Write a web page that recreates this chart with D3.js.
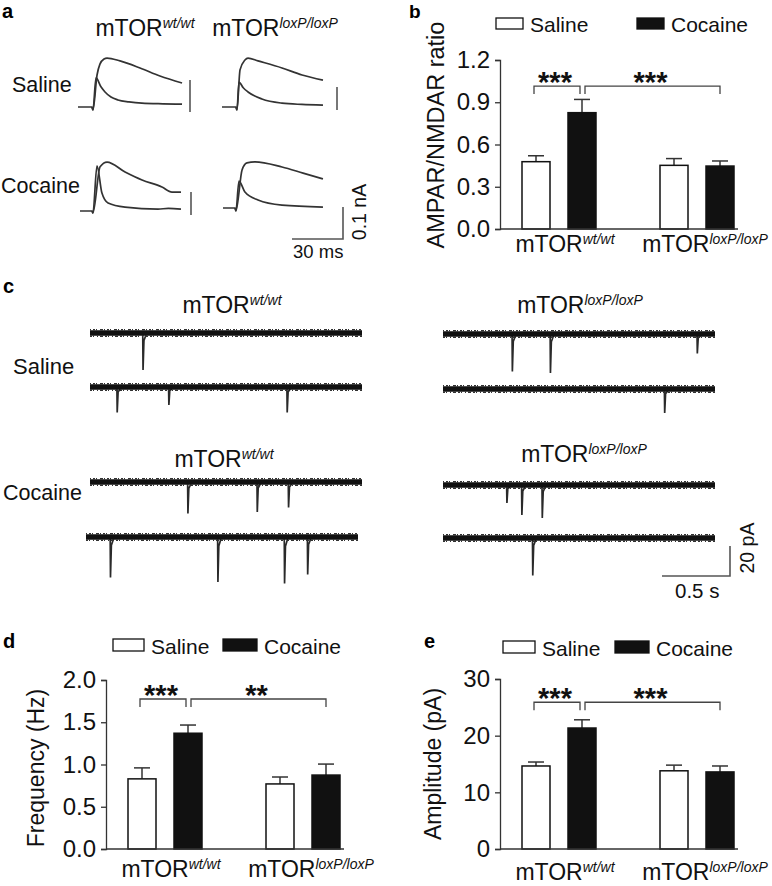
<!DOCTYPE html>
<html><head><meta charset="utf-8">
<script src="https://cdn.jsdelivr.net/npm/d3@7"></script>
<style>html,body{margin:0;padding:0;background:#fff}</style>
</head><body>
<svg id="fig" width="772" height="886" xmlns="http://www.w3.org/2000/svg"></svg>
<script>
// ---------------- DATA ----------------
const groups = ["wt/wt", "loxP/loxP"];
const conditions = ["Saline", "Cocaine"];

// Panel b: AMPAR/NMDAR ratio (mean, SEM) [group][condition]
const ratioMean = [[0.478, 0.826], [0.452, 0.447]];
const ratioSem  = [[0.042, 0.094], [0.048, 0.036]];
const ratioTicks = [0, 0.3, 0.6, 0.9, 1.2];

// Panel d: mEPSC frequency (Hz)
const freqMean = [[0.83, 1.37], [0.77, 0.875]];
const freqSem  = [[0.13, 0.097], [0.082, 0.13]];
const freqTicks = [0, 0.5, 1.0, 1.5, 2.0];

// Panel e: mEPSC amplitude (pA)
const ampMean = [[14.65, 21.35], [13.8, 13.6]];
const ampSem  = [[0.7, 1.45], [1.0, 1.05]];
const ampTicks = [0, 10, 20, 30];

// significance brackets: [group, condition] -> [group, condition]
const sigPairs = [
  { from: [0, 0], to: [0, 1] },
  { from: [0, 1], to: [1, 1] }
];
const ratioSig = ["***", "***"];
const freqSig  = ["***", "**"];
const ampSig   = ["***", "***"];
const ratioSigLevel = 1.015;
const freqSigLevel = 1.775;
const ampSigLevel = 25.9;

// Panel a: evoked EPSC traces, points [ms, pA]
const salineWtFast = [[0,0],[8.2,0],[8.8,-9],[10.6,91],[13.5,63],[15.9,47],[19.4,31],[23.5,22],[30,16],[37.6,12],[50,10],[61.2,9]];
const salineWtSlow = [[8.2,0],[8.8,-9],[11.2,100],[12.9,134],[15.3,150],[17.1,153],[24.7,144],[36.5,122],[48.2,97],[61.2,75]];
const salineLoxFast = [[0,0],[8.2,0],[8.8,-9],[10.0,78],[12.5,60],[15.3,47],[23.5,25],[35.3,12],[47,8],[59.4,6]];
const salineLoxSlow = [[8.2,0],[8.8,-9],[10.6,116],[13.5,147],[15.3,153],[21.2,144],[35.3,122],[47.1,100],[59.4,84]];
const cocaineWtFast = [[0,0],[7.1,0],[7.6,-6],[10.0,141],[12.9,56],[16.5,25],[26.5,12],[45.9,6],[52,8],[59.4,6]];
const cocaineWtSlow = [[7.1,0],[7.6,-6],[11.8,138],[15.9,153],[26.5,122],[36.5,97],[48.2,75],[54.1,59],[59.4,59]];
const cocaineLoxFast = [[0,0],[7.1,0],[7.6,-9],[9.4,84],[12.9,50],[20.6,25],[34.7,9],[58.8,3]];
const cocaineLoxSlow = [[7.1,0],[7.6,-9],[11.2,119],[14.1,141],[18.8,144],[34.7,128],[47.1,109],[58.8,91]];
const epscSideBarsPa = [100, 72, 72];    // vertical markers beside the first three cells
const epscScaleMs = 30, epscScalePa = 100;
const epscScaleLabels = ["30 ms", "0.1 nA"];

// Panel c: mEPSC sweeps, events [time s, amplitude pA]
const sweepLength = 2.0;
const sweepSalineWt1 = [[0.39, 24.7]];
const sweepSalineWt2 = [[0.20, 17], [0.58, 12], [1.45, 17]];
const sweepCocaineWt1 = [[0.72, 21], [1.23, 20], [1.46, 17]];
const sweepCocaineWt2 = [[0.18, 27], [0.97, 30], [1.46, 31], [1.63, 25]];
const sweepSalineLox1 = [[0.51, 25], [0.79, 26], [1.87, 13]];
const sweepSalineLox2 = [[1.63, 16]];
const sweepCocaineLox1 = [[0.47, 12], [0.58, 20], [0.73, 22]];
const sweepCocaineLox2 = [[0.66, 25]];
const mScaleS = 0.5, mScalePa = 20;
const mScaleLabels = ["0.5 s", "20 pA"];

// ---------------- DRAWING ----------------
const FONT = "'Liberation Sans', Arial, Helvetica, sans-serif";
const svg = d3.select("#fig").style("font-family", FONT);
const AX = "#333";

function panelLetter(t, x, y, size) {
  svg.append("text").attr("x", x).attr("y", y).attr("font-size", size || 20)
    .attr("font-weight", "bold").attr("fill", "#000").text(t);
}
function genoLabel(g, cx, y) {
  const t = svg.append("text").attr("x", cx).attr("y", y).attr("text-anchor", "middle")
    .attr("font-size", 23).attr("fill", "#111");
  t.append("tspan").text("mTOR");
  t.append("tspan").attr("font-size", 14).attr("font-style", "italic").attr("dy", -8).text(g);
}
function plainText(t, x, y, size, anchor) {
  return svg.append("text").attr("x", x).attr("y", y).attr("font-size", size)
    .attr("text-anchor", anchor || "start").attr("fill", "#111").text(t);
}

// ---------- Panel a ----------
panelLetter("a", 2, 18);
genoLabel(groups[0], 145, 36);
genoLabel(groups[1], 275, 36);
plainText("Saline", 12, 92, 21.5);
plainText("Cocaine", 1, 193, 21.5);

const xMs = d3.scaleLinear().domain([0, 30]).range([0, 51]);
const yPa = d3.scaleLinear().domain([0, 100]).range([0, -32]);
const epscLine = d3.line().x(d => xMs(d[0])).y(d => yPa(d[1])).curve(d3.curveMonotoneX);
const epscCells = [
  { x: 78,  y: 107, fast: salineWtFast,  slow: salineWtSlow,  bar: { x: 190, bottom: 112, pa: epscSideBarsPa[0] } },
  { x: 222, y: 107, fast: salineLoxFast, slow: salineLoxSlow, bar: { x: 337, bottom: 110, pa: epscSideBarsPa[1] } },
  { x: 80,  y: 211, fast: cocaineWtFast, slow: cocaineWtSlow, bar: { x: 191, bottom: 215, pa: epscSideBarsPa[2] } },
  { x: 223, y: 208, fast: cocaineLoxFast, slow: cocaineLoxSlow, bar: null }
];
epscCells.forEach(c => {
  const g = svg.append("g").attr("transform", `translate(${c.x},${c.y})`);
  [c.slow, c.fast].forEach(tr => g.append("path").attr("d", epscLine(tr))
    .attr("fill", "none").attr("stroke", "#333").attr("stroke-width", 1.7));
  if (c.bar) {
    svg.append("line").attr("x1", c.bar.x).attr("x2", c.bar.x)
      .attr("y1", c.bar.bottom).attr("y2", c.bar.bottom + yPa(c.bar.pa))
      .attr("stroke", "#555").attr("stroke-width", 1.6);
  }
});
// L scale bar
{
  const cx = 343, cy = 239;
  svg.append("path").attr("d", `M${cx - xMs(epscScaleMs)},${cy}H${cx}V${cy + yPa(epscScalePa)}`)
    .attr("fill", "none").attr("stroke", "#555").attr("stroke-width", 1.6);
  plainText(epscScaleLabels[0], 293, 258, 18.5);
  plainText(epscScaleLabels[1], 0, 0, 19.5, "middle").attr("transform", `translate(366,212) rotate(-90)`);
}

// ---------- Panel c ----------
panelLetter("c", 3, 293);
genoLabel(groups[0], 232, 313);
genoLabel(groups[1], 580, 313);
genoLabel(groups[0], 224, 467);
genoLabel(groups[1], 584, 462);
plainText("Saline", 13, 374, 22);
plainText("Cocaine", 3, 500, 21.5);

const xS = d3.scaleLinear().domain([0, 0.5]).range([0, 68]);
const yP = d3.scaleLinear().domain([0, 20]).range([0, 30]);
const sweeps = [
  { x: 90,  y: 333, ev: sweepSalineWt1 },
  { x: 90,  y: 387, ev: sweepSalineWt2 },
  { x: 90,  y: 482, ev: sweepCocaineWt1 },
  { x: 86,  y: 537, ev: sweepCocaineWt2 },
  { x: 443, y: 334, ev: sweepSalineLox1 },
  { x: 443, y: 389, ev: sweepSalineLox2 },
  { x: 443, y: 485, ev: sweepCocaineLox1 },
  { x: 443, y: 538, ev: sweepCocaineLox2 }
];
sweeps.forEach(s => {
  const g = svg.append("g").attr("transform", `translate(${s.x},${s.y})`);
  const L = xS(sweepLength);
  // spikes
  s.ev.forEach(e => {
    const x = xS(e[0]), d = yP(e[1]);
    g.append("path").attr("d", `M${x - 0.3},0L${x},${d}L${x + 0.9},${d * 0.2}L${x + 3},2`)
      .attr("fill", "none").attr("stroke", "#2a2a2a").attr("stroke-width", 1.7);
  });
  // noise band
  g.append("line").attr("x1", 0).attr("x2", L).attr("y1", 0).attr("y2", 0)
    .attr("stroke", "#111").attr("stroke-width", 5.5);
  g.append("line").attr("x1", 0).attr("x2", L).attr("y1", -3.2).attr("y2", -3.2)
    .attr("stroke", "#333").attr("stroke-width", 1.6).attr("stroke-dasharray", "1,2,2,1,1,3,3,1");
  g.append("line").attr("x1", 0).attr("x2", L).attr("y1", 3.2).attr("y2", 3.2)
    .attr("stroke", "#333").attr("stroke-width", 1.6).attr("stroke-dasharray", "2,1,1,3,1,2,3,2");
});
{
  const cx = 730, cy = 576;
  svg.append("path").attr("d", `M${cx - xS(mScaleS)},${cy}H${cx}V${cy - yP(mScalePa)}`)
    .attr("fill", "none").attr("stroke", "#555").attr("stroke-width", 1.6);
  plainText(mScaleLabels[0], 675, 598, 20.5);
  plainText(mScaleLabels[1], 0, 0, 19.5, "middle").attr("transform", `translate(754,548) rotate(-90)`);
}

// ---------- Bar panels ----------
function barPanel(o) {
  const y = d3.scaleLinear().domain([o.ticks[0], o.ticks[o.ticks.length - 1]]).range([o.yBot, o.yTop]);
  const offs = [[36, 82], [174, 220]];
  const cxOf = (gi, ci) => o.ax + offs[gi][ci];
  const bw = 28;
  const g = svg.append("g");
  // bars
  groups.forEach((gn, gi) => conditions.forEach((cn, ci) => {
    const m = o.means[gi][ci], s = o.sems[gi][ci], cx = cxOf(gi, ci);
    g.append("line").attr("x1", cx).attr("x2", cx).attr("y1", y(m)).attr("y2", y(m + s))
      .attr("stroke", AX).attr("stroke-width", 1.5);
    g.append("line").attr("x1", cx - 8).attr("x2", cx + 8).attr("y1", y(m + s)).attr("y2", y(m + s))
      .attr("stroke", AX).attr("stroke-width", 1.5);
    g.append("rect").attr("x", cx - bw / 2).attr("y", y(m)).attr("width", bw).attr("height", y(0) - y(m))
      .attr("fill", ci === 0 ? "#fff" : "#111").attr("stroke", "#111").attr("stroke-width", 1.5);
  }));
  // axes
  const axis = d3.axisLeft(y).tickValues(o.ticks).tickFormat(d3.format(o.fmt))
    .tickSizeOuter(0).tickSize(5).tickPadding(5);
  const ag = svg.append("g").attr("transform", `translate(${o.ax},0)`).call(axis);
  ag.select(".domain").attr("stroke", AX).attr("stroke-width", 1.3);
  ag.selectAll(".tick line").attr("stroke", AX).attr("stroke-width", 1.3);
  ag.selectAll(".tick text").attr("font-size", o.tickSize).attr("fill", "#111").attr("font-family", FONT);
  svg.append("line").attr("x1", o.ax).attr("x2", o.ax + 238).attr("y1", y(0)).attr("y2", y(0))
    .attr("stroke", AX).attr("stroke-width", 1.3);
  // brackets
  sigPairs.forEach((p, i) => {
    const x1 = cxOf(p.from[0], p.from[1]) + (i === 0 ? -2 : 3);
    const x2 = cxOf(p.to[0], p.to[1]) + (i === 0 ? -2 : 0);
    const yb = y(o.sigLevel);
    svg.append("path").attr("d", `M${x1},${yb + 8}V${yb}H${x2}V${yb + 8}`)
      .attr("fill", "none").attr("stroke", "#444").attr("stroke-width", 1.3);
    svg.append("text").attr("x", (x1 + x2) / 2 - 2).attr("y", yb + 6).attr("text-anchor", "middle")
      .attr("font-size", 29).attr("font-weight", "bold").attr("fill", "#111").text(o.sig[i]);
  });
  // y label
  plainText(o.ylabel, 0, 0, o.ylabelSize, "middle")
    .attr("transform", `translate(${o.ylx},${o.yly}) rotate(-90)`);
  // category labels
  genoLabel(groups[0], (cxOf(0, 0) + cxOf(0, 1)) / 2 + 6, o.catY);
  genoLabel(groups[1], (cxOf(1, 0) + cxOf(1, 1)) / 2 + 8, o.catY);
  // legend
  o.legend.forEach((l, i) => {
    svg.append("rect").attr("x", l.x).attr("y", o.legY).attr("width", l.w).attr("height", o.legH)
      .attr("fill", i === 0 ? "#fff" : "#111").attr("stroke", "#111").attr("stroke-width", 1.3);
    plainText(conditions[i], l.x + l.w + 7, o.legY + o.legH + 3, 21);
  });
}

panelLetter("b", 409, 18, 19);
barPanel({
  ax: 500, yTop: 60, yBot: 229, ticks: ratioTicks, fmt: ".1f", tickSize: 24,
  means: ratioMean, sems: ratioSem, sig: ratioSig, sigLevel: ratioSigLevel,
  ylabel: "AMPAR/NMDAR ratio", ylabelSize: 23.5, ylx: 444, yly: 135, catY: 252,
  legY: 18, legH: 11, legend: [{ x: 496, w: 27 }, { x: 637, w: 27 }]
});

panelLetter("d", 3, 648);
barPanel({
  ax: 106, yTop: 680, yBot: 849, ticks: freqTicks, fmt: ".1f", tickSize: 24,
  means: freqMean, sems: freqSem, sig: freqSig, sigLevel: freqSigLevel,
  ylabel: "Frequency (Hz)", ylabelSize: 23, ylx: 44, yly: 768, catY: 877,
  legY: 639, legH: 12, legend: [{ x: 113, w: 31 }, { x: 223, w: 34 }]
});

panelLetter("e", 424, 648);
barPanel({
  ax: 500, yTop: 679, yBot: 849, ticks: ampTicks, fmt: "d", tickSize: 24,
  means: ampMean, sems: ampSem, sig: ampSig, sigLevel: ampSigLevel,
  ylabel: "Amplitude (pA)", ylabelSize: 23, ylx: 441, yly: 764, catY: 880,
  legY: 641, legH: 12, legend: [{ x: 503, w: 32 }, { x: 615, w: 34 }]
});
</script></body></html>
